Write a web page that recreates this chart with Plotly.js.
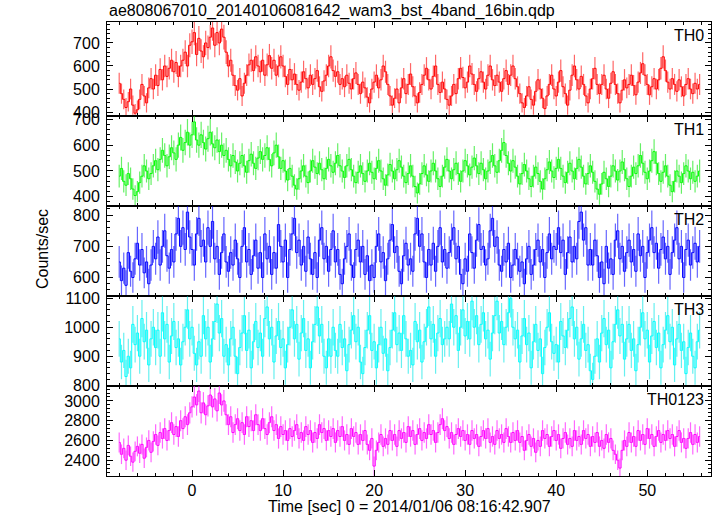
<!DOCTYPE html>
<html><head><meta charset="utf-8">
<script src="https://cdn.plot.ly/plotly-3.0.1.min.js"></script>
<style>html,body{margin:0;padding:0;background:#fff}#chart{width:717px;height:516px}</style>
</head><body><div id="chart"></div>
<script>
const chartTitle = "ae808067010_20140106081642_wam3_bst_4band_16bin.qdp";
const xTitle = "Time [sec] 0 = 2014/01/06 08:16:42.907";
const yTitle = "Counts/sec";
const bandNames = ["TH0", "TH1", "TH2", "TH3", "TH0123"];
const tStart = -8.0;     // first bin centre (s)
const binWidth = 0.25;   // bin width (s)

const th0 = [
525,480,455,420,445,500,430,395,410,455,520,470,440,505,545,500,
560,515,585,540,600,555,590,625,575,615,555,600,625,660,600,690,
705,745,650,720,665,640,700,680,725,765,690,745,700,760,725,660,
600,625,560,515,495,545,470,525,560,605,625,580,640,600,575,625,
560,605,645,590,625,560,600,640,600,555,520,585,540,565,520,495,
530,575,545,505,560,520,545,580,510,490,535,560,600,640,580,555,
575,520,545,510,560,525,500,545,570,520,480,530,505,465,440,500,
530,560,505,540,600,575,520,470,430,460,500,440,505,545,480,520,
565,510,470,440,485,520,560,590,540,500,555,600,520,485,530,500,
455,430,470,520,480,545,590,550,505,530,600,565,520,490,545,575,
530,500,560,600,540,515,560,530,490,545,580,520,560,600,545,510,
480,440,420,470,510,455,430,490,540,500,460,415,470,520,560,500,
470,530,580,510,480,430,495,560,600,540,500,555,520,470,440,500,
545,590,520,480,520,560,500,460,525,575,520,480,440,495,540,505,
520,560,515,475,530,570,610,560,520,475,510,545,500,540,590,640,
580,530,500,545,520,490,540,510,470,520,545,500,480,525,500,520];

const th1 = [
480,510,460,445,490,470,430,405,420,455,480,520,500,470,490,520,
540,505,545,580,560,520,555,590,570,545,600,630,580,610,650,600,
640,690,620,600,640,610,585,625,650,605,590,620,575,600,560,580,
545,520,560,535,500,530,560,520,495,540,565,530,510,550,575,545,
560,590,545,520,570,600,555,510,540,500,465,510,480,445,430,470,
500,520,480,455,500,540,515,490,530,505,470,510,545,520,495,530,
560,520,500,475,520,545,505,480,455,495,520,490,460,500,530,495,
470,510,540,500,470,445,485,525,500,470,505,540,515,480,455,490,
520,480,440,415,450,490,520,485,460,500,530,500,470,440,480,515,
545,500,470,505,530,490,460,500,540,520,485,515,550,520,490,530,
505,470,500,535,560,520,495,540,580,610,560,530,500,540,515,480,
450,490,525,500,470,440,480,515,490,460,430,470,505,535,500,475,
510,545,510,480,455,495,530,500,470,510,545,515,480,450,490,520,
495,460,430,410,450,495,470,440,480,520,500,465,500,535,505,470,
440,480,515,490,520,560,530,495,470,500,540,575,530,490,460,495,
520,480,445,420,460,500,480,455,490,520,500,470,495,460,480,500];

const th2 = [
650,590,630,575,680,620,600,660,710,640,690,615,650,580,640,700,
660,730,640,700,750,670,630,690,650,740,790,700,760,690,810,730,
690,640,740,790,700,720,650,760,700,780,660,700,610,680,740,650,
620,680,640,720,660,600,700,760,650,690,610,670,720,630,680,600,
740,660,700,610,680,630,770,700,650,720,600,690,740,790,680,720,
640,700,620,730,660,610,680,600,720,760,660,700,620,690,750,650,
690,610,580,660,700,740,640,600,690,720,650,700,610,670,590,640,
600,700,740,650,680,590,660,720,770,680,700,620,580,670,710,640,
660,620,740,790,700,740,650,600,690,640,710,620,700,760,650,690,
630,680,720,760,660,700,610,580,660,620,740,680,630,720,770,690,
700,640,660,750,790,700,730,640,620,690,650,710,600,640,690,660,
620,650,580,660,700,610,640,690,720,650,690,600,680,740,660,700,
690,760,680,720,610,680,730,650,700,660,780,810,720,760,640,690,
640,720,670,600,650,580,700,630,660,610,720,750,660,700,620,680,
720,650,690,620,740,670,700,600,680,720,760,680,710,630,690,730,
660,700,610,680,720,760,660,700,600,690,720,640,680,710,650,700];

const th3 = [
960,880,920,830,900,860,1010,940,980,900,1030,950,990,870,960,1000,
930,990,900,1050,960,1010,880,970,1020,930,960,870,950,1000,1060,960,
1000,910,870,950,900,1040,960,1000,880,960,1020,1080,980,1030,900,940,
870,960,1000,900,840,930,980,1040,920,990,860,950,1020,930,980,900,
1030,1070,960,1000,880,970,1020,930,960,860,940,1000,1060,960,1010,890,
980,1030,920,960,860,950,1010,1070,970,1010,900,860,960,900,1000,920,
900,1010,930,960,850,940,990,1040,950,1000,880,840,930,990,1040,920,
950,860,940,1000,910,960,850,930,990,1050,940,980,920,1040,960,900,
920,870,1020,950,990,880,950,1000,1070,960,1010,900,980,1030,940,960,
1000,960,1080,1000,1040,920,1000,1060,970,1020,960,1090,1000,1040,940,1010,
1050,960,990,890,980,1040,1090,980,1020,940,1000,1050,1100,1000,960,990,
880,970,1030,940,980,860,950,1010,920,960,840,930,1000,1050,950,910,
940,880,1020,970,930,990,1030,1070,960,1000,890,960,1010,920,940,850,
820,900,960,880,980,1030,940,990,860,950,1010,1060,970,1010,890,960,
1010,920,960,850,940,1000,1050,960,990,880,970,1020,930,980,860,940,
990,1040,950,1000,870,960,1010,920,950,840,930,980,900,860,950,990];

const th0123 = [
2580,2460,2520,2400,2550,2440,2380,2490,2540,2470,2560,2420,2530,2600,2480,2590,
2660,2550,2680,2620,2720,2600,2700,2780,2660,2740,2640,2800,2720,2840,2760,2880,
2940,3040,2960,3100,2880,2980,2860,2950,3060,2940,3020,2900,3080,2960,3000,2860,
2760,2840,2680,2760,2820,2700,2780,2660,2840,2740,2800,2700,2860,2760,2700,2820,
2720,2660,2780,2840,2700,2760,2620,2740,2660,2700,2600,2720,2640,2700,2760,2620,
2680,2600,2740,2660,2700,2580,2680,2620,2760,2680,2720,2600,2700,2640,2720,2580,
2700,2640,2740,2600,2660,2560,2720,2640,2680,2560,2660,2600,2700,2560,2500,2620,
2340,2500,2580,2660,2540,2620,2560,2700,2600,2660,2540,2700,2620,2680,2580,2740,
2640,2700,2560,2660,2720,2600,2680,2620,2760,2660,2700,2580,2680,2760,2820,2700,
2740,2620,2680,2560,2660,2720,2640,2700,2600,2660,2560,2700,2620,2660,2540,2640,
2700,2620,2720,2580,2640,2560,2700,2620,2660,2580,2720,2640,2580,2680,2600,2700,
2580,2640,2500,2600,2660,2540,2620,2480,2600,2540,2700,2620,2660,2540,2640,2700,
2600,2660,2520,2620,2680,2560,2620,2540,2700,2600,2640,2560,2700,2620,2660,2540,
2640,2580,2680,2540,2600,2520,2660,2580,2620,2500,2460,2400,2320,2500,2600,2540,
2680,2580,2640,2540,2700,2600,2660,2560,2720,2620,2660,2540,2640,2700,2580,2660,
2600,2700,2620,2660,2540,2640,2700,2580,2620,2520,2620,2680,2560,2660,2580,2640];

const series = [th0, th1, th2, th3, th0123];
const lineColors = ["#ff0000", "#00ff00", "#0000ff", "#00ffff", "#ff00ff"];
const errColors = ["rgba(255,0,0,0.6)", "rgba(0,230,0,0.6)", "rgba(0,0,255,0.6)", "rgba(0,230,230,0.6)", "rgba(255,0,255,0.6)"];
const yRanges = [[383, 791], [365, 713], [540, 830], [797, 1107], [2240, 3150]];
const yDtick = [100, 100, 100, 100, 200];
const yMinor = [20, 20, 20, 20, 40];
const domains = [[0.793, 1], [0.595, 0.793], [0.396, 0.595], [0.198, 0.396], [0, 0.198]];

const FONT = "Liberation Sans, Arial, sans-serif";
const FS = 16;
const traces = [];
const layout = {
  width: 717, height: 516,
  margin: {l: 107, r: 6, t: 22, b: 40},
  paper_bgcolor: "#fff", plot_bgcolor: "#fff",
  showlegend: false,
  font: {family: FONT, size: FS, color: "#000"},
  annotations: [],
};

series.forEach((vals, i) => {
  const n = i + 1;
  const xs = vals.map((_, k) => tStart + k * binWidth);
  const errs = vals.map(v => Math.sqrt(v / binWidth));
  traces.push({
    type: "scatter", mode: "lines",
    x: xs, y: vals,
    xaxis: n === 1 ? "x" : "x" + n, yaxis: n === 1 ? "y" : "y" + n,
    line: {color: lineColors[i], width: 1, shape: "hvh"},
    error_y: {type: "data", array: errs, visible: true, color: errColors[i], thickness: 1.2, width: 0},
    hoverinfo: "skip"
  });
  const xa = {
    range: [-9.34, 57.0], anchor: n === 1 ? "y" : "y" + n,
    showgrid: false, zeroline: false, showline: true, linecolor: "#000", linewidth: 1,
    mirror: "ticks", ticks: "inside", ticklen: 6, tickcolor: "#000",
    dtick: 10, tick0: 0,
    minor: {dtick: 2, ticks: "inside", ticklen: 3, tickcolor: "#000", showgrid: false},
    showticklabels: n === 5,
    tickfont: {family: FONT, size: FS}
  };
  if (n !== 1) xa.matches = "x";
  layout[n === 1 ? "xaxis" : "xaxis" + n] = xa;
  layout[n === 1 ? "yaxis" : "yaxis" + n] = {
    domain: domains[i], range: yRanges[i], anchor: n === 1 ? "x" : "x" + n,
    showgrid: false, zeroline: false, showline: true, linecolor: "#000", linewidth: 1,
    mirror: "ticks", ticks: "inside", ticklen: 6, tickcolor: "#000",
    dtick: yDtick[i], tick0: 0,
    minor: {dtick: yMinor[i], ticks: "inside", ticklen: 3, tickcolor: "#000", showgrid: false},
    tickfont: {family: FONT, size: FS}, ticklabelstandoff: 3
  };
  layout.annotations.push({
    text: bandNames[i], xref: "paper", yref: (n === 1 ? "y" : "y" + n) + " domain",
    x: 0.992, y: 0.97, xanchor: "right", yanchor: "top", showarrow: false,
    font: {family: FONT, size: FS, color: "#000"}
  });
});

layout.annotations.push({
  text: chartTitle, xref: "paper", yref: "paper", x: 0, y: 1, yshift: 0,
  xanchor: "left", yanchor: "bottom", showarrow: false,
  font: {family: FONT, size: FS, color: "#000"}
});
layout.annotations.push({
  text: xTitle, xref: "paper", yref: "paper", x: 0.5, y: 0, yshift: -20,
  xanchor: "center", yanchor: "top", showarrow: false,
  font: {family: FONT, size: FS, color: "#000"}
});
layout.annotations.push({
  text: yTitle, xref: "paper", yref: "paper", x: 0, xshift: -65, y: 0.5,
  xanchor: "center", yanchor: "middle", textangle: -90, showarrow: false,
  font: {family: FONT, size: FS, color: "#000"}
});

Plotly.newPlot("chart", traces, layout, {staticPlot: true, displayModeBar: false});
</script></body></html>
